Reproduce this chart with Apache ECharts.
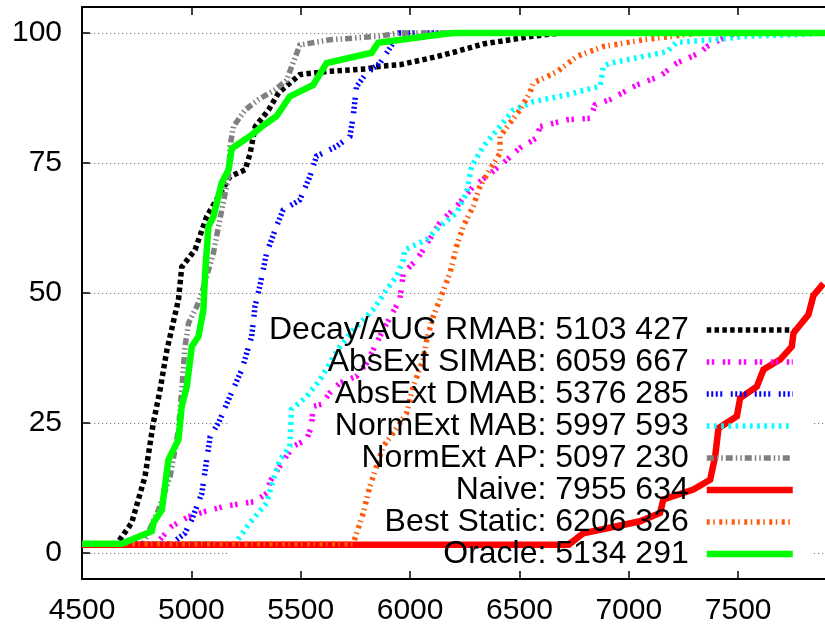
<!DOCTYPE html>
<html>
<head>
<meta charset="utf-8">
<script src="https://cdn.jsdelivr.net/npm/echarts@6/dist/echarts.min.js"></script>
<style>
  html, body { margin: 0; padding: 0; background: #fff; }
  #chart { width: 825px; height: 628px; }
</style>
</head>
<body>
<div id="chart"></div>
<script>
// Cumulative share of cases (%) reaching each cost, per strategy
const seriesNames = [
  'Decay/AUC RMAB: 5103 427',
  'AbsExt SIMAB: 6059 667',
  'AbsExt DMAB: 5376 285',
  'NormExt MAB: 5997 593',
  'NormExt AP: 5097 230',
  'Naive: 7955 634',
  'Best Static: 6206 326',
  'Oracle: 5134 291'
];

const decayAuc = [[4500,1.8],[4660,1.8],[4727,5.8],[4788,14.7],[4826,25],[4857,31.4],[4888,39],[4941,48.7],[4956,55],[5017,58.3],[5070,64.7],[5124,68.6],[5177,72.4],[5246,73.7],[5269,76.9],[5292,82],[5353,85.2],[5399,88.5],[5496,92],[5618,92.6],[5801,93.1],[5862,93.6],[5953,93.9],[6106,95.3],[6200,96.3],[6335,97.9],[6472,98.8],[6563,99.4],[6690,100],[7897,100]];

const absExtSimab = [[4500,1.8],[4840,1.8],[4910,5.1],[4987,7],[5063,8],[5154,9],[5291,9.9],[5345,11.5],[5360,13.8],[5404,16.7],[5465,20.5],[5527,21.8],[5549,24.3],[5557,28.2],[5595,28.6],[5633,30.8],[5679,32.7],[5755,34],[5801,36.5],[5877,42.9],[5953,48.7],[5969,53.8],[6030,56.4],[6060,58.3],[6136,63.5],[6213,66.7],[6289,70.5],[6350,72.4],[6426,75],[6502,77.9],[6579,79.8],[6594,82],[6716,83.3],[6823,83.6],[6846,86.2],[6914,87.2],[7036,90],[7143,91.7],[7219,94.2],[7326,96.2],[7357,97.4],[7448,99.4],[7509,100],[7897,100]];

const absExtDmab = [[4500,1.8],[4910,1.8],[4971,3.8],[5002,6.4],[5048,11.5],[5070,17.9],[5086,22.4],[5124,25],[5170,29.5],[5231,35.3],[5276,41.7],[5291,47.4],[5313,51.3],[5344,57.7],[5389,62.8],[5420,66],[5496,67.9],[5542,72.4],[5572,76.3],[5664,78.2],[5725,80.1],[5740,84],[5755,89.7],[5801,92.3],[5862,94.2],[5923,98.1],[5950,100],[7897,100]];

const normExtMab = [[4500,1.8],[5200,1.8],[5267,5.8],[5344,9.6],[5374,14.1],[5405,17.9],[5450,20.5],[5458,27.6],[5527,30.1],[5588,33.3],[5633,36.5],[5679,39.7],[5740,42.9],[5831,46.8],[5893,50.6],[5938,53.2],[5969,56.4],[5975,58.3],[6076,60.3],[6136,62.8],[6213,65.4],[6258,69.2],[6281,74.3],[6335,78.2],[6411,82],[6472,85.2],[6563,86.8],[6716,88.1],[6869,89.8],[6884,93.6],[6914,94.2],[7174,96.4],[7219,98.2],[7418,98.8],[7540,99.4],[7783,99.7],[7897,100]];

const normExtAp = [[4500,1.8],[4780,1.8],[4850,8.3],[4903,14.7],[4941,23.7],[4956,31.4],[4971,39.7],[4987,44.2],[5025,47.4],[5048,50],[5101,57.7],[5124,62.8],[5147,67.6],[5170,72.4],[5177,78.2],[5192,82],[5246,85.2],[5307,87.2],[5383,89.1],[5435,90.9],[5496,97.7],[5633,98.7],[5862,99.4],[5950,100],[7897,100]];

const naive = [[4500,1.6],[6725,1.6],[6792,3.8],[7052,6.1],[7143,7.7],[7158,10.3],[7295,12.2],[7372,14.1],[7395,18.6],[7410,24],[7494,26.3],[7509,29.8],[7585,32],[7616,35.3],[7692,37.2],[7745,39.7],[7753,42.3],[7821,45.8],[7844,49.5],[7890,51.8]];

const bestStatic = [[4500,1.8],[5740,1.8],[5786,7.7],[5816,12.8],[5847,16.7],[5877,20.5],[5923,23.1],[5984,26.9],[6014,32],[6060,37.2],[6076,41],[6106,45.5],[6136,48.7],[6182,53.8],[6213,59],[6243,62.8],[6289,66.7],[6319,70.5],[6365,73.7],[6411,76.9],[6411,80.1],[6457,82.7],[6502,85.2],[6548,88.5],[6563,90.4],[6670,92.5],[6762,95.5],[6884,97.4],[7067,98.7],[7265,99.7],[7300,100],[7897,100]];

const oracle = [[4500,1.8],[4682,1.8],[4819,4.2],[4827,5.8],[4865,8.3],[4895,17.9],[4941,21.8],[4956,28.2],[4979,32],[5002,39.7],[5033,41.7],[5055,46.8],[5063,53.8],[5078,62.8],[5101,64.7],[5139,71.2],[5170,73.7],[5185,77.8],[5269,80.2],[5322,82],[5389,84],[5450,87.8],[5557,90],[5618,94.2],[5824,96.2],[5854,98.1],[6136,99.7],[6200,100],[7897,100]];

const xTicks = [4500, 5000, 5500, 6000, 6500, 7000, 7500];
const yTicks = [0, 25, 50, 75, 100];

const seriesData = [decayAuc, absExtSimab, absExtDmab, normExtMab, normExtAp, naive, bestStatic, oracle];

// Line looks: colour, width, dash pattern
const styles = [
  { color: '#000000', width: 5.5, type: [4.5, 3.3] },
  { color: '#ff00ff', width: 5.5, type: [2.5, 2.5, 2.5, 8.5] },
  { color: '#0000ff', width: 5.5, type: [2, 2.5, 2, 2.5, 2, 2.5, 2, 8.5] },
  { color: '#00ffff', width: 5.5, type: [2.7, 4.5] },
  { color: '#808080', width: 5.5, type: [7, 3, 1.5, 3, 1.5, 3] },
  { color: '#ff0000', width: 6.5, type: 'solid' },
  { color: '#ff5a0a', width: 5.5, type: [3, 3.5, 1.5, 4.5] },
  { color: '#00ff00', width: 6.5, type: 'solid' }
];

const FONT = '"Liberation Sans", Arial, Helvetica, sans-serif';
const X_MIN = 4500, X_MAX = 7897, Y_MIN = -5, Y_MAX = 105;

const chart = echarts.init(document.getElementById('chart'), null, { renderer: 'canvas' });

const series = seriesNames.map((name, i) => ({
  name: name,
  type: 'line',
  data: seriesData[i],
  symbol: 'none',
  showSymbol: false,
  clip: true,
  lineStyle: {
    color: styles[i].color,
    width: styles[i].width,
    type: styles[i].type,
    cap: 'butt',
    join: 'miter'
  },
  itemStyle: { color: styles[i].color },
  emphasis: { disabled: true }
}));

chart.setOption({
  animation: false,
  backgroundColor: '#ffffff',
  textStyle: { fontFamily: FONT },
  grid: { left: 82, right: 0, top: 7, bottom: 49, containLabel: false },
  xAxis: [
    {
      type: 'value', position: 'bottom', min: X_MIN, max: X_MAX,
      axisLine: { show: true, onZero: false, lineStyle: { color: '#000', width: 2 } },
      axisTick: { show: true, inside: true, length: 8, customValues: xTicks, lineStyle: { color: '#000', width: 1.5 } },
      axisLabel: { show: true, customValues: xTicks, formatter: v => String(v), color: '#000', fontSize: 30, fontFamily: FONT, margin: 17 },
      splitLine: { show: false }
    },
    {
      type: 'value', position: 'top', min: X_MIN, max: X_MAX,
      axisLine: { show: true, onZero: false, lineStyle: { color: '#000', width: 2 } },
      axisTick: { show: true, inside: true, length: 8, customValues: xTicks, lineStyle: { color: '#000', width: 1.5 } },
      axisLabel: { show: false },
      splitLine: { show: false }
    }
  ],
  yAxis: {
    type: 'value', min: Y_MIN, max: Y_MAX,
    axisLine: { show: true, onZero: false, lineStyle: { color: '#000', width: 2 } },
    axisTick: { show: true, inside: true, length: 8, customValues: yTicks, lineStyle: { color: '#000', width: 1.5 } },
    axisLabel: { show: true, customValues: yTicks, formatter: v => String(v), color: '#000', fontSize: 30, fontFamily: FONT, margin: 20 },
    splitLine: { show: true, lineStyle: { color: '#7a7a7a', width: 1, type: [1.2, 2.8] } }
  },
  // opaque key box: hides the grid behind the key, curves still pass over it
  graphic: [{
    type: 'rect', z: 1, silent: true,
    shape: { x: 228, y: 312, width: 584, height: 259 },
    style: { fill: '#ffffff' }
  }],
  legend: {
    show: true,
    orient: 'vertical',
    right: 29,
    top: 314,
    padding: 0,
    itemGap: 0,
    itemWidth: 86,
    itemHeight: 14,
    align: 'right',
    selectedMode: false,
    itemStyle: { color: 'rgba(0,0,0,0)', borderWidth: 0, opacity: 0 },
    textStyle: { color: '#000', fontSize: 32, fontFamily: FONT, lineHeight: 32, padding: [0, 13, 0, 0] },
    data: seriesNames.map((name, i) => ({
      name: name,
      lineStyle: { width: styles[i].width }
    }))
  },
  series: series
});
</script>
</body>
</html>
